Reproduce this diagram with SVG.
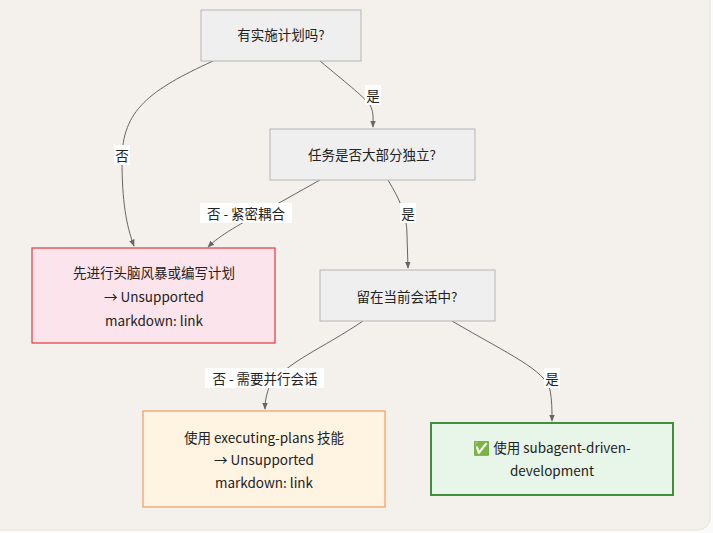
<svg xmlns="http://www.w3.org/2000/svg" width="713" height="533" viewBox="0 0 713 533">
<style>
text{font-family:"Noto Sans CJK SC","Liberation Sans",sans-serif;font-size:13.5px;fill:#222;text-anchor:middle;dominant-baseline:central}
.q{fill:#efefef;stroke:#b5b5b5;stroke-width:1}
.e{fill:none;stroke:#666;stroke-width:1}
.lb{fill:#fff}
</style>
<defs><marker id="a" viewBox="0 0 10 10" refX="9" refY="5" markerWidth="7" markerHeight="7" orient="auto"><path d="M0,1L10,5L0,9z" fill="#666"/></marker></defs>
<rect x="0" y="0" width="713" height="533" fill="#fafafa"/>
<rect x="-10" y="-10" width="720" height="540" rx="12" fill="#f4f1ec" stroke="#e6e2dc"/>
<g id="connectors">
<path class="e" marker-end="url(#a)" d="M213,61 C150,90 122,110 122,160 C122,200 126,225 134,246"/>
<path class="e" marker-end="url(#a)" d="M320,61 C345,82 362,95 370,105 C374,112 373,120 373,127"/>
<path class="e" marker-end="url(#a)" d="M320,180 L270,208 C240,224 220,235 208,247"/>
<path class="e" marker-end="url(#a)" d="M388,180 C400,200 407,215 407,235 L408,268"/>
<path class="e" marker-end="url(#a)" d="M363,321 C320,350 290,360 270,385 C266,395 265,402 265,409"/>
<path class="e" marker-end="url(#a)" d="M452,321 C510,355 545,370 550,390 C552,400 552,410 552,421"/>
<rect class="lb" x="114" y="145" width="16" height="20"/><text x="122" y="155">否</text>
<rect class="lb" x="365" y="85" width="16" height="20"/><text x="373" y="95">是</text>
<rect class="lb" x="200" y="203" width="92" height="20"/><text x="246" y="213">否 - 紧密耦合</text>
<rect class="lb" x="400" y="203" width="16" height="20"/><text x="408" y="213">是</text>
<rect class="lb" x="205" y="368" width="119" height="20"/><text x="265" y="378">否 - 需要并行会话</text>
<rect class="lb" x="544" y="368" width="16" height="20"/><text x="552" y="378">是</text>
</g>
<g id="n1"><rect class="q" x="201" y="10" width="160" height="51"/><text x="281" y="34">有实施计划吗?</text></g>
<g id="n2"><rect class="q" x="270" y="129" width="205" height="51"/><text x="372" y="154">任务是否大部分独立?</text></g>
<g id="n3"><rect x="32" y="248" width="243" height="95" fill="#fce4ec" stroke="#e03a3a" stroke-width="1.2"/><text x="154" y="272">先进行头脑风暴或编写计划</text><text x="154" y="296">→ Unsupported</text><text x="154" y="320">markdown: link</text></g>
<g id="n4"><rect class="q" x="320" y="270" width="175" height="51"/><text x="407" y="296">留在当前会话中?</text></g>
<g id="n5"><rect x="143" y="411" width="242" height="96" fill="#fff3e2" stroke="#f49a60" stroke-width="1.2"/><text x="264" y="437">使用 executing-plans 技能</text><text x="264" y="459">→ Unsupported</text><text x="264" y="482">markdown: link</text></g>
<g id="n6"><rect x="431" y="423" width="242" height="72" fill="#e8f5e9" stroke="#3f8f3f" stroke-width="2"/><text x="552" y="447">✅ 使用 subagent-driven-</text><text x="552" y="470">development</text></g>
</svg>
